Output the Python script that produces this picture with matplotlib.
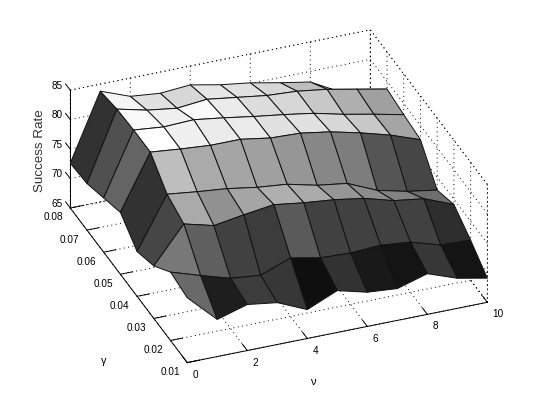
import numpy as np
import matplotlib
matplotlib.use('Agg')
import matplotlib.pyplot as plt
from matplotlib.transforms import ScaledTranslation

nu = [0, 1, 2, 3, 4, 5, 6, 7, 8, 9, 10]
gamma = [0.01, 0.02, 0.03, 0.04, 0.05, 0.06, 0.07, 0.08]

# success rate, one row per gamma, one column per nu
rate_001 = [76.0, 71.3, 72.8, 72.1, 69.9, 72.1, 70.8, 70.4, 71.9, 70.1, 69.1]
rate_002 = [76.6, 75.0, 73.5, 73.0, 74.9, 73.9, 73.7, 74.0, 73.5, 72.0, 71.8]
rate_003 = [73.9, 80.0, 78.7, 79.5, 80.2, 79.5, 79.0, 78.2, 76.8, 76.1, 74.1]
rate_004 = [72.6, 81.3, 80.7, 80.2, 79.4, 78.9, 77.7, 77.0, 74.8, 73.6, 72.8]
rate_005 = [75.5, 84.7, 84.2, 83.8, 83.8, 83.0, 82.8, 82.0, 80.8, 79.4, 77.6]
rate_006 = [74.2, 84.7, 84.2, 84.4, 83.7, 82.9, 82.2, 81.4, 80.2, 79.2, 78.1]
rate_007 = [72.9, 84.5, 83.3, 82.6, 83.1, 82.4, 81.7, 81.4, 80.7, 79.7, 78.7]
rate_008 = [72.6, 83.8, 81.9, 81.4, 81.8, 80.8, 80.1, 79.1, 78.2, 75.5, 74.0]

# gray level of each surface patch (C matrix of the surface)
gray_1 = [105, 30, 60, 55, 15, 50, 25, 20, 55, 20]
gray_2 = [120, 95, 65, 60, 90, 65, 65, 65, 65, 45]
gray_3 = [70, 170, 145, 165, 175, 170, 150, 140, 130, 110]
gray_4 = [50, 190, 170, 165, 160, 150, 135, 125, 85, 70]
gray_5 = [100, 255, 240, 235, 235, 225, 225, 215, 200, 165]
gray_6 = [80, 250, 240, 250, 235, 220, 215, 200, 175, 160]
gray_7 = [50, 245, 225, 215, 230, 225, 215, 190, 180, 150]

dots = (0, (1, 3.5))

plt.rcParams['font.family'] = ['Liberation Sans', 'DejaVu Sans']
plt.rcParams['font.size'] = 7.2
plt.rcParams['grid.linestyle'] = dots
plt.rcParams['grid.linewidth'] = 0.7
plt.rcParams['grid.color'] = 'black'
plt.rcParams['axes.linewidth'] = 0.7

rates = np.array([rate_001, rate_002, rate_003, rate_004, rate_005, rate_006, rate_007, rate_008])
grays = np.array([gray_1, gray_2, gray_3, gray_4, gray_5, gray_6, gray_7]) / 255.0
X, Y = np.meshgrid(nu, gamma)

fig = plt.figure(figsize=(5.39, 4.04), dpi=100)
# axes3d squares its box, so make it wider than the figure is tall
ax = fig.add_axes([2 / 539, -69 / 404, 1, 539 / 404], projection='3d', computed_zorder=False)
ax.set_proj_type('ortho')
ax.view_init(elev=31, azim=-111.3)
ax.set_box_aspect((322, 322, 137.5), zoom=0.857)

ax.plot_surface(X, Y, rates, facecolors=plt.cm.gray(grays), rstride=1, cstride=1,
                shade=False, edgecolor='#111111', linewidth=0.7, zorder=3)

# the rest of the box
for xs, ys, zs in [([0, 10], [0.08, 0.08], [85, 85]),
                   ([10, 10], [0.01, 0.08], [85, 85]),
                   ([10, 10], [0.08, 0.08], [65, 85]),
                   ([10, 10], [0.01, 0.01], [65, 85]),
                   ([0, 10], [0.08, 0.08], [65, 65]),
                   ([10, 10], [0.01, 0.08], [65, 65])]:
    ax.plot(xs, ys, zs, color='black', linestyle=dots, linewidth=0.7, zorder=1)

ax.set_xlim(0, 10, view_margin=0)
ax.set_ylim(0.01, 0.08, view_margin=0)
ax.set_zlim(65, 85, view_margin=0)
ax.set_xticks([0, 2, 4, 6, 8, 10])
ax.set_xticklabels(['0', '2', '4', '6', '8', '10'], ha='left', va='center')
ax.set_yticks(gamma)
ax.set_yticklabels(['%.2f' % g for g in gamma], ha='right')
ax.set_zticks([65, 70, 75, 80, 85])
ax.set_zticklabels(['65', '70', '75', '80', '85'], ha='left', va='center')

for axis in (ax.xaxis, ax.yaxis, ax.zaxis):
    axis.set_pane_color((1, 1, 1, 0))
    axis.pane.set_edgecolor((1, 1, 1, 0))
    axis._axinfo['tick']['inward_factor'] = 0
    axis._axinfo['tick']['outward_factor'] = 0.5
    axis._axinfo['tick']['linewidth'] = {True: 0.7, False: 0.5}
    axis._axinfo['axisline']['linewidth'] = 0.7
# z ticks lean along gamma here, not along nu
ax.zaxis._get_tickdir = lambda position: 1
ax.tick_params(axis='x', pad=1)
ax.tick_params(axis='y', pad=-3)
ax.tick_params(axis='z', pad=1)

up = ScaledTranslation(0, 11 / 100, fig.dpi_scale_trans)
for label in ax.get_zticklabels():
    label.set_transform(label.get_transform() + up)

fig.text(313 / 539, 1 - 382 / 404, 'ν', fontsize=8, ha='center', va='center')
fig.text(104 / 539, 1 - 361 / 404, 'γ', fontsize=8, ha='center', va='center')
fig.text(40 / 539, 1 - 151 / 404, 'Success Rate', fontsize=9.6, color='#333333',
         rotation=90, ha='center', va='center')

fig.savefig('out.png', dpi=100)
